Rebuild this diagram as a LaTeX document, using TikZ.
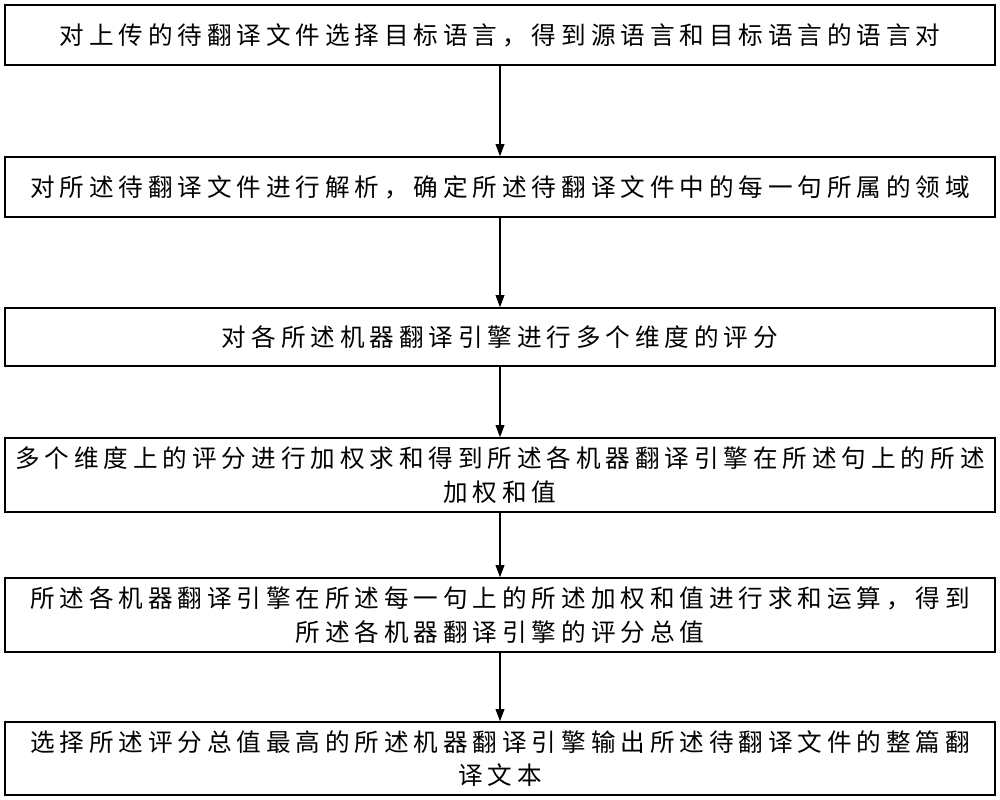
\documentclass[tikz,border=0pt]{standalone}
\usepackage{fontspec}
\newfontfamily\cjk[LetterSpace=20]{Noto Sans CJK SC}
\usetikzlibrary{positioning,arrows.meta}
\begin{document}
\begin{tikzpicture}
    \tikzset{stepbox/.style={draw,line width=0.8pt,minimum width=19.8cm,align=center,inner sep=2pt,font=\cjk\fontsize{14}{19}\selectfont},
             flow/.style={-{Triangle[length=7pt,width=5pt]},line width=0.8pt}}
    \useasboundingbox (0,0) rectangle (20,-15.98);
    % steps
    \node[stepbox,minimum height=1.2cm] (pair) at (10,-0.7) {对上传的待翻译文件选择目标语言，得到源语言和目标语言的语言对};
    \node[stepbox,minimum height=1.2cm] (domain) at (10,-3.74) {对所述待翻译文件进行解析，确定所述待翻译文件中的每一句所属的领域};
    \node[stepbox,minimum height=1.16cm] (score) at (10,-6.74) {对各所述机器翻译引擎进行多个维度的评分};
    \node[stepbox,minimum height=1.48cm] (weight) at (10,-9.5) {多个维度上的评分进行加权求和得到所述各机器翻译引擎在所述句上的所述\\加权和值};
    \node[stepbox,minimum height=1.48cm] (total) at (10,-12.3) {所述各机器翻译引擎在所述每一句上的所述加权和值进行求和运算，得到\\所述各机器翻译引擎的评分总值};
    \node[stepbox,minimum height=1.46cm] (output) at (10,-15.17) {选择所述评分总值最高的所述机器翻译引擎输出所述待翻译文件的整篇翻\\译文本};
    % arrows
    \draw[flow] (pair) -- (domain);
    \draw[flow] (domain) -- (score);
    \draw[flow] (score) -- (weight);
    \draw[flow] (weight) -- (total);
    \draw[flow] (total) -- (output);
\end{tikzpicture}
\end{document}
